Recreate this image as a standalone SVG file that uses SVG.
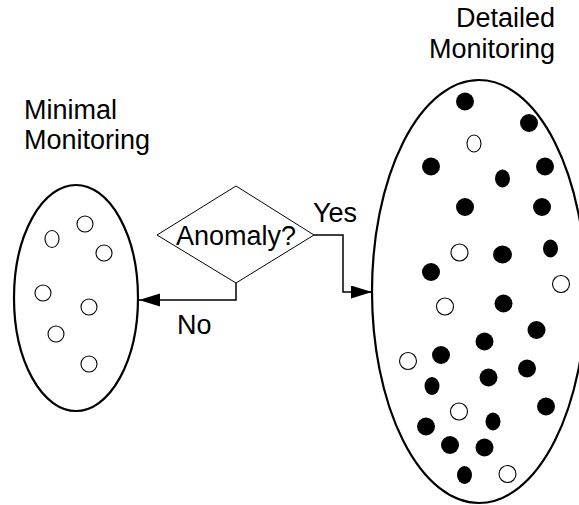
<svg xmlns="http://www.w3.org/2000/svg" width="579" height="505" viewBox="0 0 579 505">
  <style>
    .label { font-family: "Liberation Sans", Arial, sans-serif; font-size: 27px; fill: #000; }
    .region { fill: #fff; stroke: #000; stroke-width: 2.2; }
    .open { fill: #fff; stroke: #000; stroke-width: 1.1; }
    .full { fill: #000; }
    .decision { fill: #fff; stroke: #000; stroke-width: 1; }
    .link { fill: none; stroke: #000; stroke-width: 1.5; }
  </style>
  <defs>
    <marker id="arrow" markerWidth="22" markerHeight="14" refX="21" refY="6.5" orient="auto" markerUnits="userSpaceOnUse">
      <path d="M0,0 L21,6.5 L0,13 Z" fill="#000"/>
    </marker>
  </defs>
  <rect width="579" height="505" fill="#fff"/>

  <!-- Minimal monitoring: sparse sampling -->
  <g id="minimal">
    <text class="label" x="24" y="119">Minimal</text>
    <text class="label" x="24" y="149">Monitoring</text>
    <ellipse class="region" cx="76" cy="298" rx="62" ry="113"/>
    <ellipse class="open" cx="85" cy="224" rx="8" ry="8"/>
    <ellipse class="open" cx="52" cy="239" rx="7" ry="8.5"/>
    <ellipse class="open" cx="104" cy="253" rx="8" ry="8"/>
    <ellipse class="open" cx="43" cy="293" rx="8" ry="8"/>
    <ellipse class="open" cx="89" cy="307" rx="8" ry="8"/>
    <ellipse class="open" cx="56" cy="334" rx="8" ry="8"/>
    <ellipse class="open" cx="89" cy="364" rx="8" ry="8"/>
  </g>

  <!-- Decision -->
  <g id="anomaly">
    <polygon class="decision" points="236,186 314,235 236,283 157,235"/>
    <text class="label" x="236" y="245" text-anchor="middle">Anomaly?</text>
  </g>

  <!-- Detailed monitoring: dense sampling -->
  <g id="detailed">
    <text class="label" x="555" y="27" text-anchor="end">Detailed</text>
    <text class="label" x="555" y="58" text-anchor="end">Monitoring</text>
    <ellipse class="region" cx="479" cy="291.5" rx="107" ry="211.5"/>
    <g class="full">
      <ellipse cx="465" cy="101.5" rx="9" ry="9"/>
      <ellipse cx="529" cy="123" rx="9" ry="9"/>
      <ellipse cx="431" cy="166.5" rx="9" ry="9"/>
      <ellipse cx="545" cy="166.5" rx="9" ry="9"/>
      <ellipse cx="502.5" cy="178.5" rx="7.5" ry="9"/>
      <ellipse cx="465" cy="207" rx="9" ry="9"/>
      <ellipse cx="542" cy="207" rx="9" ry="9"/>
      <ellipse cx="502.5" cy="254.5" rx="9.5" ry="9"/>
      <ellipse cx="550.5" cy="248.5" rx="7.5" ry="9"/>
      <ellipse cx="431" cy="272" rx="9" ry="9"/>
      <ellipse cx="503.5" cy="303.5" rx="9" ry="9"/>
      <ellipse cx="536.5" cy="330" rx="9" ry="9"/>
      <ellipse cx="484.5" cy="341.5" rx="9" ry="9"/>
      <ellipse cx="441" cy="355" rx="9" ry="9"/>
      <ellipse cx="527" cy="368.5" rx="9" ry="9"/>
      <ellipse cx="432" cy="386" rx="7.5" ry="9"/>
      <ellipse cx="488.5" cy="377.5" rx="9" ry="9"/>
      <ellipse cx="546" cy="406.5" rx="9" ry="9"/>
      <ellipse cx="493" cy="421.5" rx="7.5" ry="9"/>
      <ellipse cx="426" cy="426.5" rx="9" ry="9"/>
      <ellipse cx="450" cy="445" rx="9" ry="9"/>
      <ellipse cx="484.5" cy="447.5" rx="9" ry="9"/>
      <ellipse cx="464.5" cy="475" rx="7.5" ry="9"/>
    </g>
    <ellipse class="open" cx="474" cy="143.5" rx="7" ry="8.5"/>
    <ellipse class="open" cx="459.5" cy="252.5" rx="8.5" ry="8.5"/>
    <ellipse class="open" cx="561" cy="284" rx="8.5" ry="8.5"/>
    <ellipse class="open" cx="445" cy="306.5" rx="8.5" ry="8.5"/>
    <ellipse class="open" cx="408" cy="361" rx="8.5" ry="8.5"/>
    <ellipse class="open" cx="459" cy="411.5" rx="8.5" ry="8.5"/>
    <ellipse class="open" cx="507.5" cy="474" rx="8.5" ry="8.5"/>
  </g>

  <!-- Connectors -->
  <g id="connectors">
    <path class="link" d="M314,235 H343 V292 H372" marker-end="url(#arrow)"/>
    <text class="label" x="313" y="222">Yes</text>
    <path class="link" d="M236,283 V300 H139" marker-end="url(#arrow)"/>
    <text class="label" x="177" y="334">No</text>
  </g>
</svg>
